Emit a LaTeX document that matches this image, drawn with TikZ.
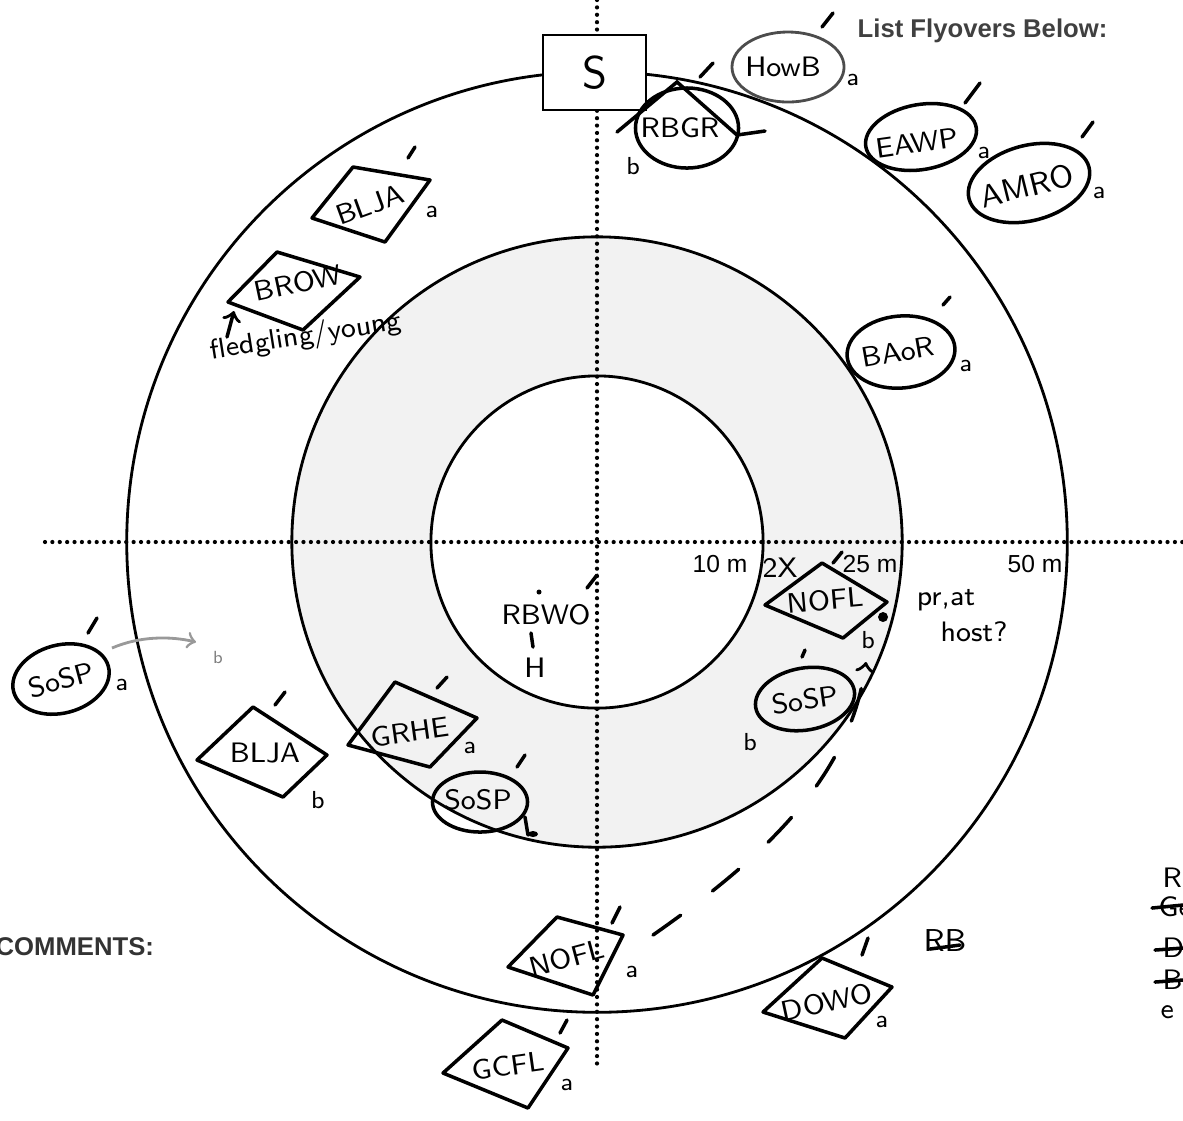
\documentclass[tikz,border=0pt]{standalone}
\usepackage{fontspec}
\setmainfont{Liberation Sans}
\usetikzlibrary{shapes.geometric}

\begin{document}
\begin{tikzpicture}[x=0.01cm, y=-0.01cm,
    ring/.style={line width=0.8pt},
    axis/.style={line width=1.2pt, dash pattern=on 0pt off 2.1pt, line cap=round},
    hand/.style={font=\sffamily\fontsize{8}{9}\selectfont, inner sep=0pt},
    letter/.style={font=\sffamily\fontsize{7}{8}\selectfont, inner sep=0pt},
    oval/.style={draw, ellipse, line width=1pt, inner sep=0pt},
    quad/.style={draw, line width=1pt, line join=round},
    tick/.style={line width=1pt, line cap=round},
    dist/.style={font=\fontsize{7}{8}\selectfont, inner sep=0pt, anchor=base east}]
    \useasboundingbox (0,0) rectangle (1183,1120);

    % Rings
    \coordinate (C) at (597,542);
    \fill[black!5] (C) circle (3.05cm);
    \fill[white] (C) circle (1.66cm);
    \draw[ring] (C) circle (1.66cm);
    \draw[ring] (C) circle (3.05cm);
    \draw[ring] (C) circle (4.70cm);

    % Axes
    \draw[axis] (45,542) -- (1183,542);
    \draw[axis] (597,0) -- (597,1070);
    \node[dist] (d10) at (748,572) {10 m};
    \node[dist] (d25) at (898,572) {25 m};
    \node[dist] (d50) at (1063,572) {50 m};

    % Sheet text
    \node[anchor=base west, inner sep=0pt, text=black!75, font=\bfseries\fontsize{7.3}{8}\selectfont] (flyovers) at (857,37) {List Flyovers Below:};
    \node[anchor=base west, inner sep=0pt, text=black!80, font=\bfseries\fontsize{7.3}{8}\selectfont] (comments) at (-5,955) {COMMENTS:};
    \node[draw, ring, fill=white, minimum width=1.03cm, minimum height=0.75cm, font=\sffamily\fontsize{13}{14}\selectfont] (sbox) at (594.5,72.5) {S};

    % Flyovers
    \node[oval, minimum width=1.12cm, minimum height=0.70cm, line width=0.8pt, draw=black!70] (howb) at (788,67) {};
    \node[hand] (howbtxt) at (783,67) {HowB};
    \node[letter] (howba) at (853,80) {a};
    \draw[tick] (822,27) -- (833,13);
    \node[oval, minimum width=1.12cm, minimum height=0.65cm, rotate=10] (eawp) at (921,137) {};
    \node[hand, rotate=8] (eawptxt) at (917,143) {EAWP};
    \node[letter] (eawpa) at (984,153) {a};
    \draw[tick] (965,103) -- (980,83);
    \node[oval, minimum width=1.24cm, minimum height=0.75cm, rotate=15] (amro) at (1029,183) {};
    \node[hand, font=\sffamily\fontsize{9}{10}\selectfont, rotate=14] (amrotxt) at (1027,186) {AMRO};
    \node[letter] (amroa) at (1099,193) {a};
    \draw[tick] (1082,137) -- (1093,122);

    % Birds around the station
    \node[oval, minimum width=1.03cm, minimum height=0.80cm] (rbgr) at (687,128) {};
    \node[hand] (rbgrtxt) at (680,128) {RBGR};
    \draw[tick] (617,132) -- (677,82) -- (737,135) -- (765,131);
    \node[letter] (rbgrb) at (633,166) {b};
    \draw[tick] (700,77) -- (713,63);

    \draw[quad] (353,167) -- (430,180) -- (385,242) -- (312,218) -- cycle;
    \node[hand, rotate=20] (blja1) at (370,205) {BLJA};
    \node[letter] (blja1a) at (432,212) {a};
    \draw[tick] (408,158) -- (415,147);

    \draw[quad] (277,252) -- (360,277) -- (303,330) -- (228,302) -- cycle;
    \node[hand, rotate=12] (brow) at (298,283) {BROW};
    \coordinate (browcorner) at (234,311);
    \coordinate (fledtip) at (227,337);
    \draw[tick, ->] (fledtip) -- (browcorner);
    \node[hand, rotate=9] (fledgling) at (306,337) {fledgling/young};

    \node[oval, minimum width=1.08cm, minimum height=0.72cm, rotate=5] (baor) at (901,352) {};
    \node[hand, rotate=10] (baortxt) at (898,352) {BAoR};
    \node[letter] (baora) at (966,366) {a};
    \draw[tick] (943,305) -- (950,297);

    \node[hand] (rbwo) at (546,615) {RBWO};
    \fill (539,592) circle (0.025cm);
    \draw[tick] (531,633) -- (533,647);
    \node[hand] (rbwoh) at (535,668) {H};
    \draw[tick] (587,588) -- (597,575);

    \draw[quad] (822,563) -- (887,602) -- (843,638) -- (765,605) -- cycle;
    \node[hand, rotate=5] (nofl1) at (825,600) {NOFL};
    \node[letter] (nofl1b) at (868,640) {b};
    \fill (883,617) circle (0.05cm);
    \node[hand] (twox) at (780,568) {2X};
    \draw[tick] (833,563) -- (842,552);
    \node[hand] (prat) at (946,600) {pr,at};
    \node[hand] (host) at (974,632) {host?};

    \node[oval, minimum width=1.00cm, minimum height=0.62cm, rotate=10] (sosp1) at (805,699) {};
    \node[hand, rotate=8] (sosp1txt) at (805,700) {SoSP};
    \node[letter] (sosp1b) at (750,742) {b};
    \draw[tick] (802,657) -- (805,650);

    \node[oval, minimum width=0.98cm, minimum height=0.68cm, rotate=15] (sosp2) at (61,679) {};
    \node[hand, rotate=15] (sosp2txt) at (61,680) {SoSP};
    \node[letter] (sosp2a) at (122,685) {a};
    \draw[tick] (88,633) -- (97,618);
    \coordinate (sosp2end) at (196,642);
    \draw[black!40, line width=0.8pt, ->] (112,648) .. controls (140,636) and (170,636) .. (sosp2end);
    \node[letter, text=black!50, font=\sffamily\fontsize{5}{6}\selectfont] (sosp2b) at (218,657) {b};

    \draw[quad] (253,707) -- (327,755) -- (283,797) -- (197,760) -- cycle;
    \node[hand] (blja2) at (265,753) {BLJA};
    \node[letter] (blja2b) at (318,800) {b};
    \draw[tick] (275,705) -- (285,692);

    \draw[quad] (395,682) -- (477,718) -- (430,767) -- (348,745) -- cycle;
    \node[hand, rotate=8] (grhe) at (410,732) {GRHE};
    \node[letter] (grhea) at (470,748) {a};
    \draw[tick] (437,688) -- (447,677);

    \node[oval, minimum width=0.95cm, minimum height=0.60cm] (sosp3) at (480,802) {};
    \node[hand] (sosp3txt) at (478,800) {SoSP};
    \draw[tick] (525,817) -- (528,835);
    \fill (533,834) ellipse (0.05cm and 0.03cm);
    \draw[tick] (517,767) -- (525,755);

    \draw[quad] (557,917) -- (623,935) -- (593,995) -- (508,967) -- cycle;
    \node[hand, rotate=15] (nofl2) at (567,958) {NOFL};
    \node[letter] (nofl2a) at (632,972) {a};
    \draw[tick] (620,907) -- (612,923);
    \coordinate (nofl2out) at (653,935);
    \coordinate (nofl1in) at (866,662);
    \draw[tick, dash pattern=on 0.34cm off 0.4cm, ->] (nofl2out) .. controls (760,860) and (850,780) .. (nofl1in);

    \draw[quad] (502,1020) -- (568,1048) -- (528,1108) -- (443,1073) -- cycle;
    \node[hand, rotate=8] (gcfl) at (508,1066) {GCFL};
    \node[letter] (gcfla) at (567,1085) {a};
    \draw[tick] (567,1020) -- (560,1033);

    \draw[quad] (822,958) -- (892,987) -- (845,1038) -- (763,1012) -- cycle;
    \node[hand, rotate=12] (dowo) at (827,1002) {DOWO};
    \node[letter] (dowoa) at (882,1022) {a};
    \draw[tick] (868,938) -- (862,955);
    \node[hand, font=\sffamily\fontsize{9}{10}\selectfont] (rb) at (945,940) {RB};
    \draw[tick] (930,949) -- (960,945);

    % Notes at right edge
    \node[hand, anchor=west] (n1) at (1162,878) {R};
    \node[hand, anchor=west] (n2) at (1158,907) {Ge};
    \node[hand, anchor=west] (n3) at (1162,948) {D};
    \node[hand, anchor=west] (n4) at (1162,980) {B};
    \node[hand, anchor=west] (n5) at (1160,1012) {e};
    \draw[tick] (1152,908) -- (1183,905);
    \draw[tick] (1155,950) -- (1183,948);
    \draw[tick] (1155,982) -- (1183,980);
\end{tikzpicture}
\end{document}
